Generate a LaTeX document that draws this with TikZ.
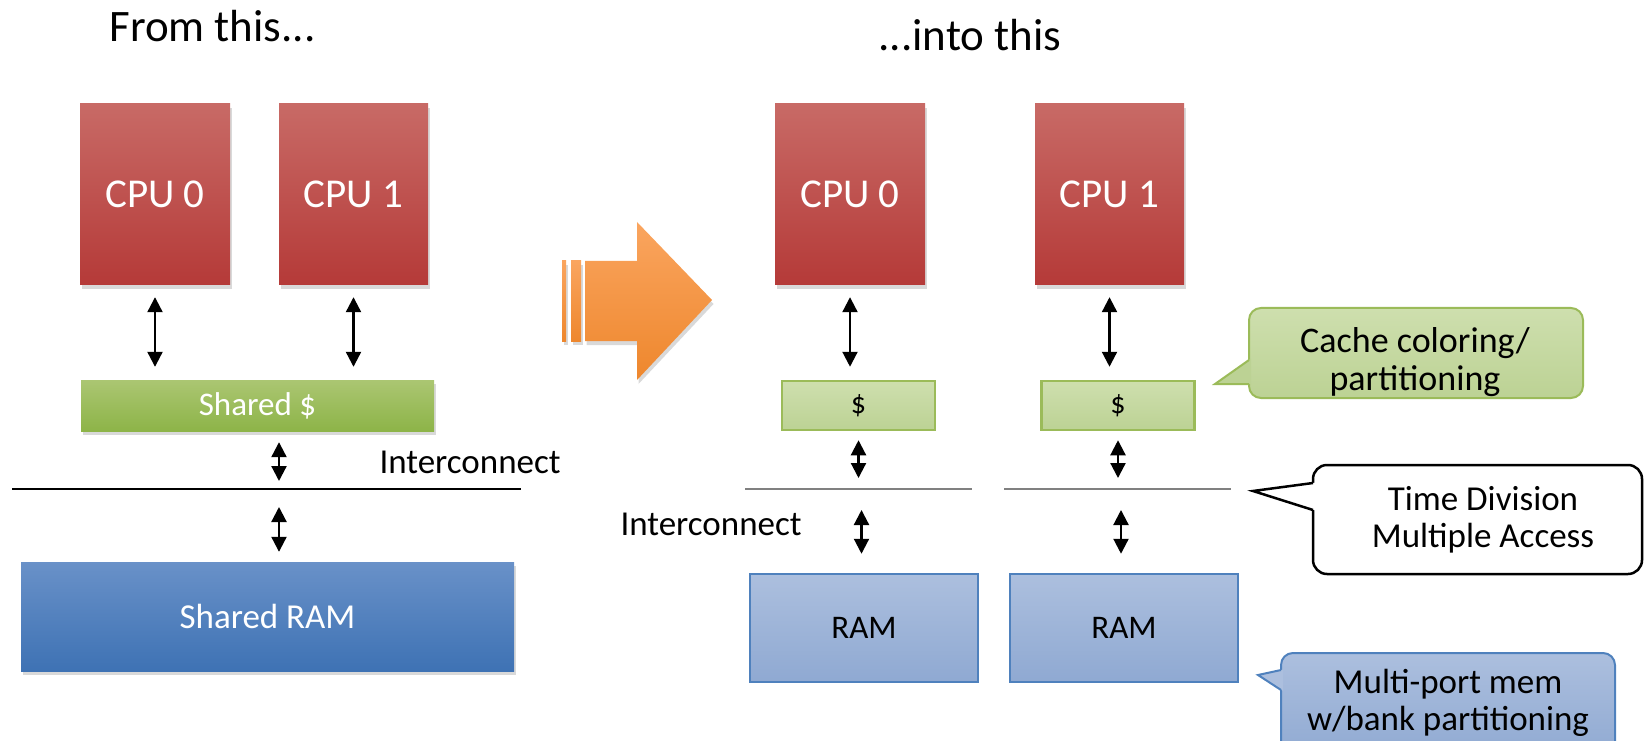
\documentclass[tikz,border=0pt]{standalone}
\usepackage{fontspec}
\setmainfont{Carlito}
\usetikzlibrary{calc,arrows.meta,shadows}
\definecolor{cpuTop}{RGB}{200,106,102}
\definecolor{cpuBot}{RGB}{181,58,56}
\definecolor{grnTop}{RGB}{171,198,114}
\definecolor{grnBot}{RGB}{141,180,72}
\definecolor{bluTop}{RGB}{105,145,200}
\definecolor{bluBot}{RGB}{62,114,180}
\definecolor{grnLine}{RGB}{155,187,89}
\definecolor{grnLtTop}{RGB}{206,223,174}
\definecolor{grnLtBot}{RGB}{188,210,148}
\definecolor{bluLine}{RGB}{79,129,189}
\definecolor{bluLtTop}{RGB}{172,191,222}
\definecolor{bluLtBot}{RGB}{143,169,210}
\definecolor{orgTop}{RGB}{250,165,95}
\definecolor{orgBot}{RGB}{238,135,45}

\begin{document}
\begin{tikzpicture}[x=1pt,y=1pt,
  shadowed/.style={drop shadow={shadow xshift=1.5pt,shadow yshift=-4pt,opacity=.3}},
  cpu/.style={shadowed,inner sep=0pt,minimum width=150pt,minimum height=181pt,top color=cpuTop,bottom color=cpuBot,text=white,font=\fontsize{41}{44}\selectfont},
  big/.style={shadowed,inner sep=0pt,text=white},
  part/.style={inner sep=0pt,line width=2.5pt},
  link/.style={line width=2.2pt,{Triangle[width=15pt,length=15pt]}-{Triangle[width=15pt,length=15pt]}},
  txt/.style={font=\fontsize{35}{37}\selectfont},
  title/.style={anchor=base,font=\fontsize{45}{48}\selectfont},
  callbox/.style={rounded corners=12pt,minimum width=334pt,line width=2pt}]
\useasboundingbox (0,0) rectangle (1645,740);

\node[title] (T0) at (212.5,698) {From this...};
\node[cpu] (A0) at (155,545.5) {CPU 0};
\node[cpu,minimum width=149pt] (A1) at (353.5,545.5) {CPU 1};
\node[big,minimum width=353pt,minimum height=51pt,top color=grnTop,bottom color=grnBot,font=\fontsize{33}{36}\selectfont] (S) at (257.5,334.5) {Shared \$};
\node[big,minimum width=493pt,minimum height=109pt,top color=bluTop,bottom color=bluBot,font=\fontsize{35}{38}\selectfont] (R) at (267.5,123.5) {Shared RAM};
\coordinate (L0) at (12,251);
\coordinate (L1) at (521,251);
\coordinate (B) at (279,251);
\draw[line width=2.5pt] (L0) -- (L1);
\node[txt,anchor=base west] (I0) at (376,267) {Interconnect};
\draw[link,shorten <=12pt,shorten >=13pt] (A0.south) -- (A0.south |- S.north);
\draw[link,shorten <=12pt,shorten >=13pt] (A1.south) -- (A1.south |- S.north);
\draw[link,shorten <=11pt,shorten >=8pt] (B |- S.south) -- (B);
\draw[link,shorten <=18pt,shorten >=10pt] (B) -- (B |- R.north);

\shade[top color=orgTop,bottom color=orgBot,shadowed] (585,399) -- (637,399) -- (637,360) -- (712,440) -- (637,518) -- (637,479) -- (585,479) -- cycle;
\shade[top color=orgTop,bottom color=orgBot,shadowed] (562,399) rectangle (566,479);
\shade[top color=orgTop,bottom color=orgBot,shadowed] (571,399) rectangle (581,479);

\node[title] (T1) at (970,689) {...into this};
\node[cpu] (D0) at (850,545.5) {CPU 0};
\node[cpu,minimum width=149pt] (D1) at (1109.5,545.5) {CPU 1};
\node[part,draw=grnLine,top color=grnLtTop,bottom color=grnLtBot,minimum width=153pt,minimum height=49pt,font=\fontsize{30}{32}\selectfont] (K0) at (858.5,334.5) {\$};
\node[part,draw=grnLine,top color=grnLtTop,bottom color=grnLtBot,minimum width=153pt,minimum height=49pt,font=\fontsize{30}{32}\selectfont] (K1) at (1118,334.5) {\$};
\coordinate (G0) at (745,251);
\coordinate (G1) at (972,251);
\coordinate (G2) at (1004,251);
\coordinate (G3) at (1231,251);
\draw[line width=2.5pt,gray] (G0) -- (G1);
\draw[line width=2.5pt,gray] (G2) -- (G3);
\node[part,draw=bluLine,top color=bluLtTop,bottom color=bluLtBot,minimum width=228pt,minimum height=108pt,font=\fontsize{33}{36}\selectfont] (M0) at (864,112) {RAM};
\node[part,draw=bluLine,top color=bluLtTop,bottom color=bluLtBot,minimum width=228pt,minimum height=108pt,font=\fontsize{33}{36}\selectfont] (M1) at (1124,112) {RAM};
\node[txt,anchor=base west] (I1) at (617,205) {Interconnect};
\draw[link,shorten <=12pt,shorten >=13pt] (D0.south) -- (D0.south |- K0.north);
\draw[link,shorten <=12pt,shorten >=13pt] (D1.south) -- (D1.south |- K1.north);
\draw[link,shorten <=9pt,shorten >=11pt] (K0.south) -- (K0.south |- G0);
\draw[link,shorten <=9pt,shorten >=11pt] (K1.south) -- (K1.south |- G2);
\draw[link,shorten <=21pt,shorten >=19pt] ($(K0.south |- G0)+(3,0)$) -- ($(K0.south |- M0.north)+(3,0)$);
\draw[link,shorten <=21pt,shorten >=19pt] ($(K1.south |- G2)+(3,0)$) -- ($(K1.south |- M1.north)+(3,0)$);

\node[callbox,draw=grnLine,top color=grnLtTop,bottom color=grnLtBot,minimum height=90pt] (N0) at (1416,387) {};
\fill[grnLtBot] (1251,381.4) -- (1215,356) -- (1251,356) -- cycle;
\draw[grnLine,line width=2pt] (1249,380) -- (1215,356) -- (1249,356);
\node[txt,align=center,font=\fontsize{36}{38}\selectfont] (N0t) at (1415,378) {Cache coloring/\\partitioning};

\node[callbox,draw=black,line width=2.5pt,fill=white,rounded corners=14pt,minimum width=329pt,minimum height=109pt] (N1) at (1477.5,220.5) {};
\fill[white] (1315,257.3) -- (1253,249) -- (1315,229.7) -- cycle;
\draw[line width=2.5pt] (1313,257) -- (1253,249) -- (1313,230);
\node[txt,align=center] (N1t) at (1483,220.5) {Time Division\\Multiple Access};

\node[callbox,draw=bluLine,top color=bluLtTop,bottom color=bluLtBot,minimum height=107pt] (N2) at (1448,33.5) {};
\fill[bluLtTop] (1283,70.4) -- (1258,65) -- (1283,49.1) -- cycle;
\draw[bluLine,line width=2pt] (1281,70) -- (1258,65) -- (1281,50);
\node[txt,align=center] (N2t) at (1448,37.5) {Multi-port mem\\w/bank partitioning};
\end{tikzpicture}
\end{document}
